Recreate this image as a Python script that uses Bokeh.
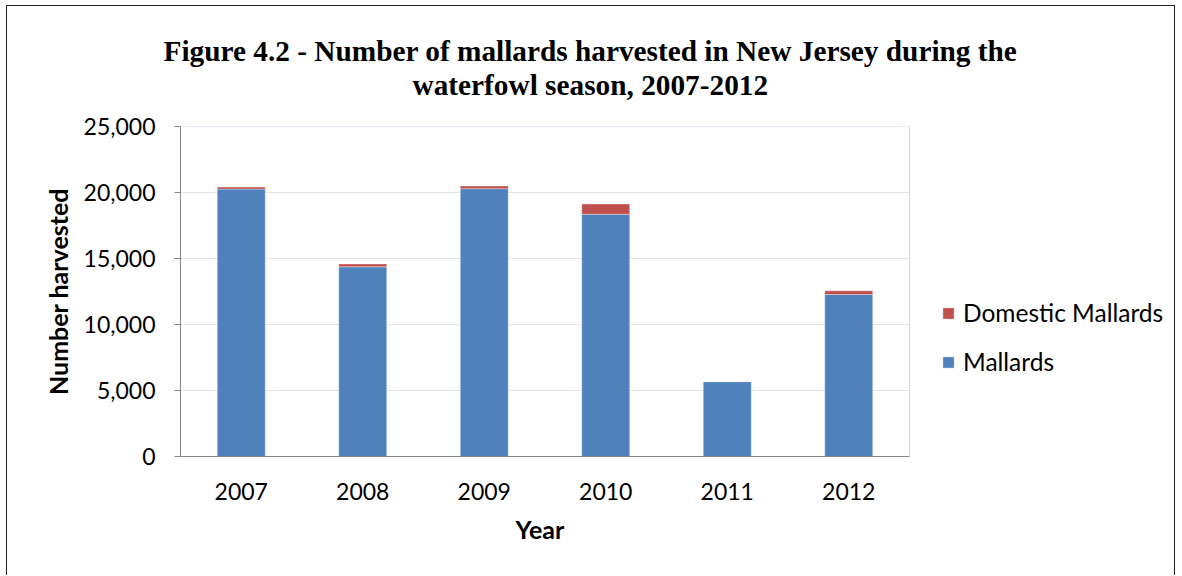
from bokeh.plotting import figure
from bokeh.models import (ColumnDataSource, Title, Legend, LegendItem, NumeralTickFormatter,
                          FixedTicker, Range1d, BoxAnnotation)
from bokeh.embed import file_html
from bokeh.resources import INLINE

years = ["2007", "2008", "2009", "2010", "2011", "2012"]
mallards = [20260, 14370, 20290, 18350, 5670, 12270]
domestic = [150, 220, 200, 780, 0, 280]
y_ticks = [0, 5000, 10000, 15000, 20000, 25000]

n = len(years)
xpos = [i + 0.5 for i in range(n)]
src = ColumnDataSource(dict(x=xpos, year=years, Mallards=mallards, Domestic=domestic))

FIG_W, FIG_H = 1169, 570
LEFT, TOP, BOTTOM = 173, 120, 120
CAT_PX = 729 / n  # pixel width of one category slot

p = figure(x_range=Range1d(0, (FIG_W - LEFT) / CAT_PX), y_range=Range1d(0, 25000),
           width=FIG_W, height=FIG_H, output_backend="svg", toolbar_location=None,
           min_border_left=LEFT, min_border_right=0, min_border_top=TOP, min_border_bottom=BOTTOM)
p.styles = {"margin-left": "6px", "margin-top": "5px",
            "border-left": "1px solid #222222", "border-top": "1px solid #222222",
            "border-right": "1px solid #222222"}
p.outline_line_color = None
p.xgrid.grid_line_color = None
p.ygrid.grid_line_color = None

# light horizontal gridlines limited to the plot area
p.segment(x0=0, x1=n, y0=y_ticks[1:-1], y1=y_ticks[1:-1], line_color="#E4E4E4", line_width=1,
          level="underlay")

# plot-area frame (top/right visible in blue)
p.add_layout(BoxAnnotation(left=0, right=n, bottom=0, top=25000, fill_color=None,
                           line_color="#4F81BD", line_width=1, level="underlay"))

rs = p.vbar_stack(["Mallards", "Domestic"], x="x", width=0.395, source=src,
                  color=["#4F81BD", "#C0504D"], line_color="white", line_alpha=0.35, line_width=1)

p.yaxis.ticker = FixedTicker(ticks=y_ticks)
p.yaxis.formatter = NumeralTickFormatter(format="0,0")
p.yaxis.minor_tick_line_color = None
p.yaxis.major_tick_out = 6
p.yaxis.major_tick_in = 0
p.yaxis.major_tick_line_color = "#868686"
p.yaxis.axis_line_color = "#868686"
p.yaxis.major_label_standoff = 19
p.yaxis.axis_label = "Number harvested"
p.yaxis.axis_label_standoff = 8

p.xaxis.ticker = FixedTicker(ticks=xpos)
p.xaxis.major_label_overrides = {x: y for x, y in zip(xpos, years)}
p.xaxis.bounds = (0, n)
p.xaxis.minor_tick_line_color = None
p.xaxis.axis_line_color = "#868686"
p.xaxis.major_tick_line_color = None
p.xaxis.major_label_standoff = 20

for ax in (p.xaxis, p.yaxis):
    ax.major_label_text_font = "Lato"
    ax.major_label_text_font_size = "23px"
    ax.major_label_text_color = "#000000"
    ax.axis_label_text_font = "Lato"
    ax.axis_label_text_font_size = "25px"
    ax.axis_label_text_font_style = "bold"
    ax.axis_label_text_color = "#000000"

# x-axis title, centred under the category area
p.add_layout(Title(text="Year", align="left", offset=335, text_font="Lato", text_font_size="25px",
                   text_font_style="bold", text_color="#000000", standoff=18), "below")

t2 = Title(text="waterfowl season, 2007-2012", align="left", offset=232,
           text_font="Liberation Serif", text_font_size="29.3px", text_font_style="bold",
           text_color="#000000", standoff=51)
t1 = Title(text="Figure 4.2 - Number of mallards harvested in New Jersey during the", align="left", offset=-17,
           text_font="Liberation Serif", text_font_size="29.3px", text_font_style="bold",
           text_color="#000000", standoff=-51)
p.add_layout(t2, "above")
p.add_layout(t1, "above")

legend = Legend(items=[LegendItem(label="Domestic Mallards", renderers=[rs[1]]),
                       LegendItem(label="Mallards", renderers=[rs[0]])],
                location=(761, 80), orientation="vertical")
legend.glyph_width = 14
legend.glyph_height = 14
legend.label_height = 29
legend.spacing = 20
legend.label_standoff = 8
legend.padding = 0
legend.margin = 0
legend.border_line_color = None
legend.background_fill_alpha = 0
legend.label_text_font = "Lato"
legend.label_text_font_size = "24.5px"
legend.label_text_color = "#000000"
p.add_layout(legend, "center")

open("out.html", "w").write(file_html(p, INLINE))
